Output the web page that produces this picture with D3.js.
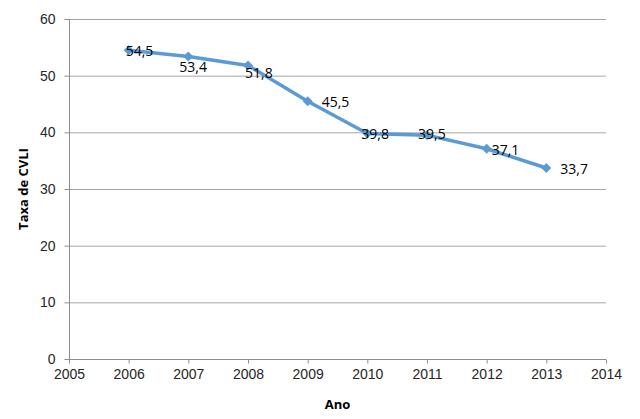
<!DOCTYPE html>
<html>
<head>
<meta charset="utf-8">
<script src="https://cdn.jsdelivr.net/npm/d3@7"></script>
<style>
  body { margin: 0; background: #fff; }
  svg { display: block; font-family: "Open Sans", "Liberation Sans", sans-serif; }
  .axis path, .axis line { stroke: #8c8c8c; }
  .axis text { fill: #262626; font-size: 14px; }
  .grid line { stroke: #a6a6a6; }
</style>
</head>
<body>
<svg id="chart" width="640" height="419"></svg>
<script>
// data
var years = [2006, 2007, 2008, 2009, 2010, 2011, 2012, 2013];
var rates = [54.5, 53.4, 51.8, 45.5, 39.8, 39.5, 37.1, 33.7];
var labels = ["54,5", "53,4", "51,8", "45,5", "39,8", "39,5", "37,1", "33,7"];
var xTicks = [2005, 2006, 2007, 2008, 2009, 2010, 2011, 2012, 2013, 2014];
var yTicks = [0, 10, 20, 30, 40, 50, 60];
// where each label sits relative to its point (dx to text start, dy to text middle)
var labelNudge = [[-3, 1], [-9, 11], [-3, 8], [14, 1], [-6, 1], [-9, -1], [5, 1], [14, 1]];

var svg = d3.select("#chart");
var margin = {top: 19, right: 34, bottom: 60, left: 69},
    width = 640 - margin.left - margin.right,
    height = 419 - margin.top - margin.bottom;

var g = svg.append("g").attr("transform", "translate(" + margin.left + "," + margin.top + ")");

var x = d3.scaleLinear().domain([2005, 2014]).range([0, width]);
var y = d3.scaleLinear().domain([0, 60]).range([height, 0]);

// horizontal gridlines
g.append("g")
    .attr("class", "grid")
  .selectAll("line")
  .data(yTicks.filter(function(d) { return d > 0; }))
  .enter().append("line")
    .attr("x1", 0)
    .attr("x2", width)
    .attr("y1", function(d) { return y(d) + 0.5; })
    .attr("y2", function(d) { return y(d) + 0.5; });

// y axis
var yAxis = g.append("g")
    .attr("class", "axis")
    .attr("transform", "translate(0.5,0)")
    .call(d3.axisLeft(y).tickValues(yTicks).tickSize(5).tickPadding(9));
yAxis.selectAll(".tick").attr("transform", function(d) { return "translate(0," + (y(d) + 0.5) + ")"; });

// x axis
var xAxis = g.append("g")
    .attr("class", "axis")
    .attr("transform", "translate(0," + (height + 0.5) + ")")
    .call(d3.axisBottom(x).tickValues(xTicks).tickFormat(d3.format("d")).tickSize(4).tickPadding(6));
xAxis.select(".domain").attr("d", "M0,0H" + width);
yAxis.select(".domain").attr("d", "M0," + height + "V0");

// axis titles
svg.append("text")
    .attr("x", margin.left + x(2009.5))
    .attr("y", 409)
    .attr("text-anchor", "middle")
    .style("font-size", "13px")
    .style("font-weight", "bold")
    .style("fill", "#000")
    .text("Ano");

svg.append("text")
    .attr("transform", "translate(28," + (margin.top + height / 2) + ") rotate(-90)")
    .attr("text-anchor", "middle")
    .style("font-size", "13px")
    .style("font-weight", "bold")
    .style("fill", "#000")
    .text("Taxa de CVLI");

var pts = years.map(function(d, i) { return {X: d, Y: rates[i]}; });

var line = d3.line()
    .x(function(d) { return x(d.X); })
    .y(function(d) { return y(d.Y); });

g.append("path")
    .datum(pts)
    .attr("fill", "none")
    .attr("stroke", "#5b9bd5")
    .attr("stroke-width", 3.5)
    .attr("stroke-linejoin", "round")
    .attr("stroke-linecap", "round")
    .attr("d", line);

// diamond markers: squares turned 45 degrees
g.selectAll(".marker")
  .data(pts)
  .enter().append("path")
    .attr("class", "marker")
    .attr("fill", "#5b9bd5")
    .attr("d", d3.symbol().type(d3.symbolSquare).size(50))
    .attr("transform", function(d) { return "translate(" + x(d.X) + "," + y(d.Y) + ") rotate(45)"; });

g.selectAll(".lbl")
  .data(pts)
  .enter().append("text")
    .attr("class", "lbl")
    .attr("x", function(d, i) { return x(d.X) + labelNudge[i][0]; })
    .attr("y", function(d, i) { return y(d.Y) + labelNudge[i][1]; })
    .attr("dy", "0.35em")
    .style("font-size", "14px")
    .style("fill", "#000")
    .text(function(d, i) { return labels[i]; });
</script>
</body>
</html>
